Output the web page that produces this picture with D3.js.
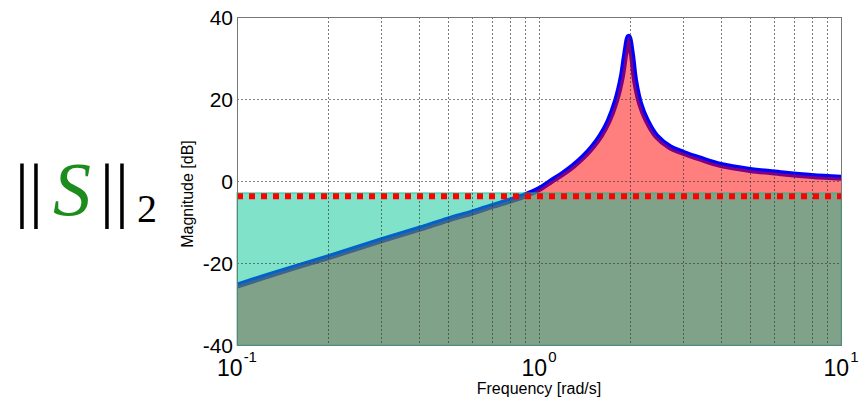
<!DOCTYPE html>
<html>
<head>
<meta charset="utf-8">
<script src="https://cdn.jsdelivr.net/npm/d3@7"></script>
<style>
  html, body { margin: 0; padding: 0; background: #fff; }
  svg { display: block; }
</style>
</head>
<body>
<svg id="chart" width="867" height="399"></svg>
<script>
// ---- data ----
const freqs = [0.1, 0.15, 0.2, 0.3, 0.4, 0.5, 0.6, 0.7, 0.8, 0.9, 1.0, 1.1, 1.2, 1.3, 1.4, 1.5, 1.6, 1.7, 1.8,
               1.88, 1.93, 1.98, 2.03, 2.08, 2.16, 2.27, 2.45, 2.72, 3.0, 3.4, 4.0, 5.0, 6.3, 8.0, 10];
const magDb = [-25.5, -21.4, -18.6, -14.5, -11.7, -9.4, -7.7, -6.1, -4.8, -3.5, -2.0, 0.0, 1.8, 3.7, 5.8, 8.2, 11.0, 14.6, 19.6,
               25.4, 31.0, 35.2, 31.0, 24.6, 19.0, 14.9, 10.9, 8.2, 6.9, 5.5, 3.9, 2.7, 1.9, 1.2, 0.8];
const bandTopDb = -2.9;      // top of the teal patch
const normLineDb = -3.7;     // red dotted norm line
const yTickValues = [-40, -20, 0, 20, 40];
const xMajorTicks = [0.1, 1, 10];
const xMajorExponents = ["-1", "0", "1"];
const xGridValues = [0.2, 0.3, 0.4, 0.5, 0.6, 0.7, 0.8, 0.9, 1, 2, 3, 4, 5, 6, 7, 8, 9];
const yGridValues = [-20, 0, 20];

// ---- layout ----
const svg = d3.select("#chart");
const L = 237, R = 841, T = 17, B = 345;
const x = d3.scaleLog().domain([0.1, 10]).range([L, R]);
const y = d3.scaleLinear().domain([-40, 40]).range([B, T]);
const pts = freqs.map((f, i) => [f, magDb[i]]);

svg.append("defs").append("clipPath").attr("id", "plotclip")
  .append("rect").attr("x", L).attr("y", T - 4).attr("width", R - L).attr("height", B - T + 8);

const plot = svg.append("g").attr("clip-path", "url(#plotclip)");
const curve = d3.curveCatmullRom.alpha(0.5);

// blue magnitude line (drawn beneath the translucent fills)
const line = d3.line().x(d => x(d[0])).y(d => y(d[1])).curve(curve);
plot.append("path").datum(pts)
  .attr("d", line)
  .attr("fill", "none")
  .attr("stroke", "#0000ff")
  .attr("stroke-width", 6)
  .attr("stroke-linejoin", "round")
  .attr("stroke-linecap", "round");

// red area under the curve
const area = d3.area().x(d => x(d[0])).y0(y(-40)).y1(d => y(d[1])).curve(curve);
plot.append("path").datum(pts)
  .attr("d", area)
  .attr("fill", "rgba(255,0,0,0.5)");

// teal band
svg.append("rect")
  .attr("x", x(0.1)).attr("y", y(bandTopDb))
  .attr("width", x(10) - x(0.1)).attr("height", y(-40) - y(bandTopDb))
  .attr("fill", "rgba(0,198,148,0.5)")
  .attr("stroke", "rgba(0,198,148,0.5)")
  .attr("stroke-width", 1.5);

// grid
const grid = svg.append("g");
grid.selectAll("line.vg").data(xGridValues).join("line")
  .attr("x1", d => Math.round(x(d)) + 0.5).attr("x2", d => Math.round(x(d)) + 0.5)
  .attr("y1", T).attr("y2", B)
  .attr("stroke", "#333").attr("stroke-opacity", 0.65)
  .attr("stroke-width", 1).attr("stroke-dasharray", "2,2");
grid.selectAll("line.hg").data(yGridValues).join("line")
  .attr("x1", L).attr("x2", R)
  .attr("y1", d => Math.round(y(d)) + 0.5).attr("y2", d => Math.round(y(d)) + 0.5)
  .attr("stroke", "#333").attr("stroke-opacity", 0.6)
  .attr("stroke-width", 1).attr("stroke-dasharray", "2,2");

// red dotted norm line
svg.append("line")
  .attr("x1", L).attr("x2", R)
  .attr("y1", y(normLineDb)).attr("y2", y(normLineDb))
  .attr("stroke", "#ff0000").attr("stroke-width", 6)
  .attr("stroke-dasharray", "6,6");

// frame
svg.append("rect")
  .attr("x", L + 0.5).attr("y", T + 0.5).attr("width", R - L).attr("height", B - T)
  .attr("fill", "none").attr("stroke", "#777").attr("stroke-width", 1);

// y tick labels
svg.append("g").selectAll("text").data(yTickValues).join("text")
  .attr("x", 233).attr("y", d => y(d))
  .attr("dy", "0.36em")
  .attr("text-anchor", "end")
  .attr("font-family", "Liberation Sans, Arial, sans-serif")
  .attr("font-size", 21)
  .attr("fill", "#000")
  .text(d => d);

// x tick labels with superscripts
const xl = svg.append("g").selectAll("text").data(xMajorTicks).join("text")
  .attr("x", d => x(d)).attr("y", 376)
  .attr("text-anchor", "middle")
  .attr("font-family", "Liberation Sans, Arial, sans-serif")
  .attr("fill", "#000");
xl.append("tspan").attr("font-size", 23).text("10");
xl.append("tspan").attr("font-size", 15).attr("dy", -14).attr("dx", 1)
  .text((d, i) => xMajorExponents[i]);

// axis titles
svg.append("text")
  .attr("x", 539).attr("y", 394)
  .attr("text-anchor", "middle")
  .attr("font-family", "Liberation Sans, Arial, sans-serif")
  .attr("font-size", 16)
  .text("Frequency [rad/s]");
svg.append("text")
  .attr("transform", "translate(193,194) rotate(-90)")
  .attr("text-anchor", "middle")
  .attr("font-family", "Liberation Sans, Arial, sans-serif")
  .attr("font-size", 16)
  .text("Magnitude [dB]");

// left label ||S||_2
const lab = svg.append("g").attr("font-family", "Liberation Serif, Times New Roman, serif");
[22, 36, 107, 122].forEach(px => {
  lab.append("text").attr("x", px).attr("y", 214).attr("text-anchor", "middle")
    .attr("font-size", 72).attr("fill", "#000").text("|");
});
lab.append("text").attr("x", 72).attr("y", 215).attr("text-anchor", "middle")
  .attr("font-size", 76).attr("font-style", "italic").attr("fill", "#1c8c1c").text("S");
lab.append("text").attr("x", 147).attr("y", 222).attr("text-anchor", "middle")
  .attr("font-size", 40).attr("fill", "#000").text("2");
</script>
</body>
</html>
